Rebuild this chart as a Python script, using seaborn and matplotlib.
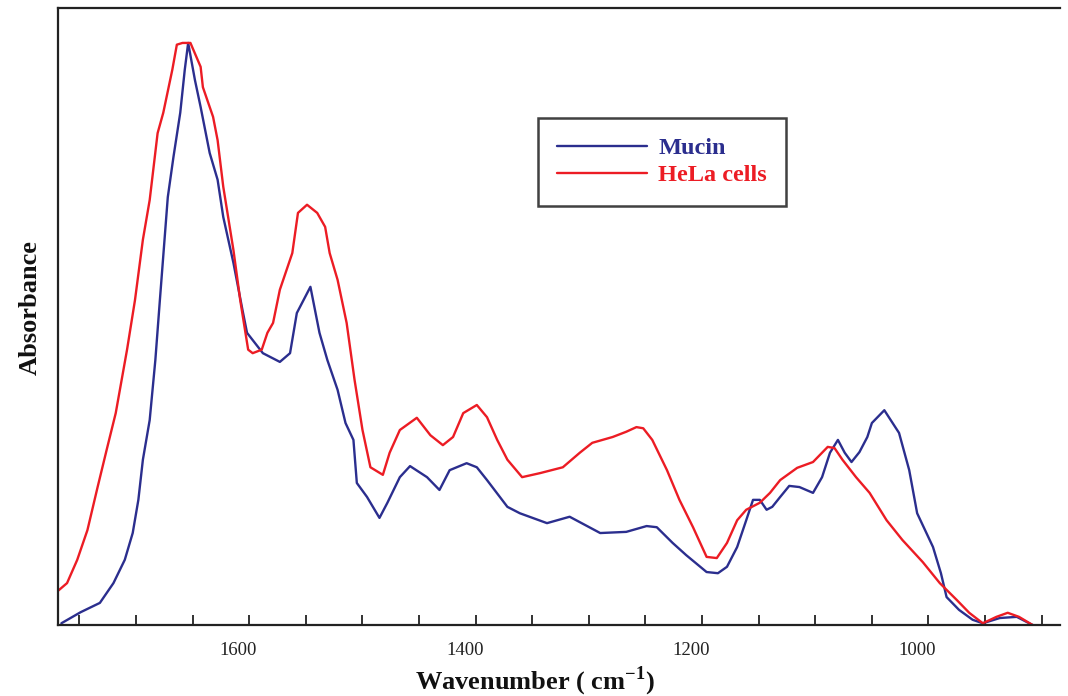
import numpy as np
import pandas as pd
import matplotlib
matplotlib.use("Agg")
import matplotlib.pyplot as plt
import matplotlib.transforms as mtransforms
from matplotlib.ticker import MultipleLocator
from matplotlib.lines import Line2D
import seaborn as sns

# ---- data (wavenumber cm-1, relative absorbance) ----
mucin_wn = [1766, 1749, 1732, 1720, 1710, 1703, 1698, 1694, 1688, 1683, 1679, 1672, 1667,
            1661, 1657, 1654, 1648, 1643, 1635, 1628, 1623, 1614, 1606, 1602, 1588, 1573,
            1564, 1558, 1546, 1538, 1531, 1522, 1515, 1508, 1505, 1496, 1485, 1478, 1467,
            1458, 1443, 1432, 1423, 1408, 1399, 1390, 1372, 1361, 1337, 1317, 1290, 1267,
            1249, 1240, 1226, 1214, 1196, 1186, 1178, 1169, 1161, 1155, 1149, 1143, 1138,
            1131, 1123, 1114, 1102, 1094, 1087, 1080, 1074, 1068, 1061, 1054, 1050, 1039,
            1026, 1017, 1010, 996, 989, 984, 973, 961, 952, 937, 922, 908, 902]
mucin_abs = [0.003, 0.022, 0.038, 0.072, 0.112, 0.158, 0.215, 0.284, 0.352, 0.455, 0.558,
             0.735, 0.804, 0.880, 0.954, 1.000, 0.936, 0.890, 0.811, 0.765, 0.701, 0.622,
             0.541, 0.502, 0.467, 0.452, 0.467, 0.536, 0.581, 0.502, 0.455, 0.404, 0.347,
             0.318, 0.244, 0.220, 0.184, 0.210, 0.254, 0.273, 0.254, 0.232, 0.266, 0.278,
             0.271, 0.249, 0.203, 0.192, 0.175, 0.186, 0.158, 0.160, 0.170, 0.168, 0.141,
             0.120, 0.091, 0.089, 0.100, 0.134, 0.180, 0.215, 0.215, 0.198, 0.203, 0.220,
             0.239, 0.237, 0.227, 0.254, 0.296, 0.318, 0.296, 0.280, 0.297, 0.323, 0.347,
             0.369, 0.330, 0.266, 0.192, 0.134, 0.089, 0.048, 0.026, 0.009, 0.003, 0.012,
             0.014, 0.000, -0.002]

hela_wn = [1770, 1761, 1752, 1743, 1734, 1726, 1718, 1708, 1701, 1694, 1688, 1681, 1676,
           1668, 1664, 1659, 1652, 1643, 1641, 1632, 1628, 1623, 1614, 1608, 1601, 1597,
           1589, 1584, 1579, 1573, 1562, 1557, 1549, 1540, 1533, 1529, 1522, 1514, 1507,
           1500, 1493, 1482, 1476, 1467, 1452, 1440, 1429, 1420, 1411, 1399, 1390, 1381,
           1372, 1359, 1343, 1323, 1308, 1297, 1279, 1267, 1258, 1252, 1244, 1231, 1220,
           1208, 1196, 1187, 1178, 1169, 1161, 1149, 1140, 1131, 1116, 1102, 1089, 1083,
           1076, 1064, 1052, 1037, 1023, 1005, 990, 975, 964, 952, 940, 930, 920, 908, 902]
hela_abs = [0.057, 0.072, 0.112, 0.163, 0.237, 0.301, 0.364, 0.473, 0.558, 0.662, 0.730,
            0.845, 0.880, 0.954, 0.997, 1.000, 1.000, 0.959, 0.924, 0.873, 0.833, 0.753,
            0.644, 0.558, 0.473, 0.467, 0.473, 0.502, 0.519, 0.576, 0.639, 0.708, 0.722,
            0.708, 0.684, 0.639, 0.593, 0.519, 0.421, 0.335, 0.271, 0.258, 0.296, 0.335,
            0.356, 0.326, 0.309, 0.323, 0.364, 0.378, 0.357, 0.318, 0.284, 0.254, 0.261,
            0.271, 0.296, 0.313, 0.323, 0.332, 0.340, 0.338, 0.318, 0.266, 0.215, 0.168,
            0.117, 0.115, 0.141, 0.180, 0.198, 0.210, 0.227, 0.249, 0.270, 0.280, 0.306,
            0.304, 0.284, 0.254, 0.227, 0.180, 0.146, 0.108, 0.072, 0.043, 0.021, 0.003,
            0.014, 0.021, 0.014, 0.000, -0.003]

series_names = ["Mucin", "HeLa cells"]
xtick_major = [1600, 1400, 1200, 1000]

# ---- styling ----
sns.set_style("ticks")
plt.rcParams["font.family"] = ["Liberation Serif", "DejaVu Serif"]
plt.rcParams["mathtext.fontset"] = "custom"
plt.rcParams["mathtext.rm"] = "Liberation Serif"
plt.rcParams["mathtext.bf"] = "Liberation Serif:bold"

BLUE = "#2b2e8e"
RED = "#ec1c24"

df = pd.concat([
    pd.DataFrame({"wn": mucin_wn, "A": mucin_abs, "sample": series_names[0]}),
    pd.DataFrame({"wn": hela_wn, "A": hela_abs, "sample": series_names[1]}),
], ignore_index=True)

fig = plt.figure(figsize=(10.68, 6.96), dpi=100)
ax = fig.add_axes([0.0543, 0.102, 0.938, 0.8865])

sns.lineplot(data=df, x="wn", y="A", hue="sample", estimator=None, sort=False,
             palette={series_names[0]: BLUE, series_names[1]: RED},
             linewidth=1.7, ax=ax, legend=False)

ax.set_xlim(1769, 884)
ax.set_ylim(0, 1.06)

for side in ["left", "top", "bottom"]:
    ax.spines[side].set_linewidth(1.6)
    ax.spines[side].set_color("#222222")
ax.spines["right"].set_visible(False)

ax.set_yticks([])
ax.xaxis.set_major_locator(plt.FixedLocator(xtick_major))
ax.xaxis.set_minor_locator(MultipleLocator(50))
ax.tick_params(axis="x", which="both", direction="in", length=7, width=1.3,
               color="#222222", top=False)
ax.tick_params(axis="x", which="major", labelsize=13.5, pad=12, labelcolor="#222222")

# tick labels in the reference sit a little left of their ticks
offset = mtransforms.ScaledTranslation(-11 / 100, 0, fig.dpi_scale_trans)
for lab in ax.get_xticklabels():
    lab.set_transform(lab.get_transform() + offset)

ax.set_xlabel("Wavenumber ( cm$^{\\mathbf{-1}}$)", fontsize=19, fontweight="bold",
              color="#111111")
ax.xaxis.set_label_coords(0.476, -0.064)
ax.set_ylabel("Absorbance", fontsize=19, fontweight="bold", color="#111111")
ax.yaxis.set_label_coords(-0.016, 0.514)

# legend
handles = [Line2D([], [], color=BLUE, lw=1.7), Line2D([], [], color=RED, lw=1.7)]
leg = ax.legend(handles, series_names, loc="upper left", bbox_to_anchor=(0.479, 0.822),
                frameon=True, fancybox=False, handlelength=3.7, handletextpad=0.45,
                borderpad=0.8, borderaxespad=0.0, labelspacing=0.2,
                prop={"family": "Liberation Serif", "weight": "bold", "size": 17.5})
leg.get_frame().set_edgecolor("#111111")
leg.get_frame().set_linewidth(1.8)
for txt, c in zip(leg.get_texts(), [BLUE, RED]):
    txt.set_color(c)

fig.savefig("out.png", dpi=100)
